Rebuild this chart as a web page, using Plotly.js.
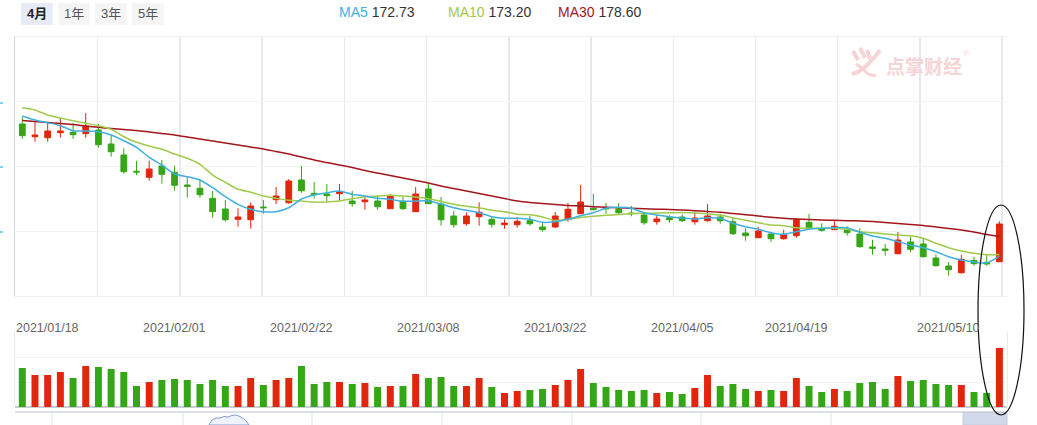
<!DOCTYPE html>
<html>
<head>
<meta charset="utf-8">
<script src="https://cdn.plot.ly/plotly-3.0.1.min.js"></script>
<style>
  html, body { margin: 0; padding: 0; background: #ffffff; }
  #chart { width: 1037px; height: 425px; }
</style>
</head>
<body>
<div id="chart"></div>
<script>
// ---------------- data ----------------
const dates = [
  '2021-01-14','2021-01-15','2021-01-18','2021-01-19','2021-01-20','2021-01-21','2021-01-22','2021-01-25','2021-01-26','2021-01-27',
  '2021-01-28','2021-01-29','2021-02-01','2021-02-02','2021-02-03','2021-02-04','2021-02-05','2021-02-08','2021-02-09','2021-02-10',
  '2021-02-18','2021-02-19','2021-02-22','2021-02-23','2021-02-24','2021-02-25','2021-02-26','2021-03-01','2021-03-02','2021-03-03',
  '2021-03-04','2021-03-05','2021-03-08','2021-03-09','2021-03-10','2021-03-11','2021-03-12','2021-03-15','2021-03-16','2021-03-17',
  '2021-03-18','2021-03-19','2021-03-22','2021-03-23','2021-03-24','2021-03-25','2021-03-26','2021-03-29','2021-03-30','2021-03-31',
  '2021-04-01','2021-04-02','2021-04-06','2021-04-07','2021-04-08','2021-04-09','2021-04-12','2021-04-13','2021-04-14','2021-04-15',
  '2021-04-16','2021-04-19','2021-04-20','2021-04-21','2021-04-22','2021-04-23','2021-04-26','2021-04-27','2021-04-28','2021-04-29',
  '2021-04-30','2021-05-06','2021-05-07','2021-05-10','2021-05-11','2021-05-12','2021-05-13','2021-05-14'
];

const open = [
  212.28,208.48,208.18,209.68,209.80,209.38,210.49,206.30,203.00,198.12,
  196.33,199.71,197.82,194.02,193.03,190.04,186.84,183.75,183.63,187.43,
  189.62,188.72,195.52,191.54,191.33,191.42,189.23,189.02,189.23,186.93,
  189.14,186.03,192.82,188.33,184.74,182.43,184.53,183.75,182.13,182.13,
  183.33,181.45,181.45,183.84,185.43,187.05,187.13,186.84,185.64,185.04,
  183.03,184.23,184.44,183.03,183.33,184.44,183.03,179.65,178.24,179.35,
  177.94,178.84,182.85,180.94,180.64,180.55,179.35,175.46,174.86,173.45,
  176.96,176.36,172.16,169.77,167.76,171.48,170.88,171.06
];
const close = [
  208.78,208.99,210.19,210.19,209.08,211.60,206.09,203.99,198.00,197.91,
  198.81,197.23,193.93,193.63,191.12,186.03,183.63,184.44,187.73,187.22,
  190.73,195.22,192.31,191.12,190.82,191.93,188.42,189.53,187.52,190.64,
  186.93,191.33,188.42,183.63,182.13,184.74,185.85,182.25,182.64,183.15,
  182.43,180.64,184.74,186.75,188.93,186.63,186.93,185.73,185.43,182.73,
  183.84,183.63,183.33,184.14,184.74,183.33,179.44,178.84,180.25,177.94,
  179.26,183.63,181.24,180.46,181.66,179.74,175.55,175.07,174.47,177.55,
  174.77,172.55,169.86,168.66,171.78,170.46,170.37,182.34
];
const high = [
  214.47,213.18,212.97,213.99,212.58,215.58,212.28,208.99,205.01,201.21,
  201.30,201.51,199.80,196.63,195.82,192.22,189.53,187.05,188.84,189.53,
  193.42,195.82,199.71,194.92,194.32,194.32,192.22,190.64,190.94,191.24,
  190.52,193.42,194.53,190.43,186.24,185.85,188.84,184.65,183.75,184.35,
  184.74,182.85,185.94,188.63,194.02,191.33,188.63,188.63,187.73,185.73,
  184.95,184.95,185.25,185.94,188.33,185.43,184.23,181.06,181.45,179.95,
  180.64,184.14,185.34,182.55,183.45,181.66,181.06,177.64,176.36,179.95,
  178.45,178.15,173.27,170.97,173.06,172.55,173.27,183.15
];
const low = [
  207.88,206.99,206.99,208.18,207.88,208.18,205.19,202.49,197.40,197.01,
  195.31,194.41,192.31,190.22,190.22,184.23,183.03,181.54,180.94,185.43,
  188.33,188.42,191.72,189.92,189.14,189.53,187.52,186.63,186.63,186.93,
  186.63,186.03,188.33,181.84,181.24,181.84,181.84,181.24,180.94,181.24,
  181.84,180.04,181.15,183.03,185.43,186.45,185.43,185.04,184.65,182.13,
  182.13,182.73,182.94,182.13,183.03,182.43,179.05,177.34,178.24,176.96,
  177.64,178.24,180.76,180.04,180.64,178.84,175.25,173.15,172.85,173.27,
  173.87,172.25,169.56,166.87,167.46,169.86,169.86,171.06
];
const ma5 = [
  214.68,213.48,212.67,211.78,210.28,210.19,209.98,208.99,207.28,205.31,
  202.31,200.01,197.31,196.51,195.52,193.21,190.52,188.24,186.75,186.03,
  186.03,187.22,189.83,191.03,191.72,192.22,191.24,190.73,190.04,189.74,
  189.14,189.23,189.23,188.33,187.22,186.45,185.73,184.53,184.05,184.05,
  183.75,182.85,183.03,183.75,184.83,185.73,187.05,187.34,187.05,185.73,
  185.04,184.53,184.14,183.84,184.23,184.05,182.55,181.54,180.76,179.74,
  179.26,180.04,180.76,181.06,181.24,181.24,179.86,178.75,178.06,177.05,
  176.06,175.25,174.05,172.55,171.57,170.97,170.67,172.73
];
const ma10 = [
  217.16,216.48,214.98,214.08,213.27,212.52,211.78,210.70,208.48,206.81,
  205.70,204.71,203.30,202.01,200.22,197.01,194.83,192.73,191.84,190.73,
  190.04,189.44,189.23,188.93,188.93,189.23,189.92,190.52,190.73,190.94,
  190.73,190.43,189.92,189.14,188.24,187.64,187.22,186.45,186.03,185.25,
  185.10,184.44,183.39,183.75,184.29,184.65,184.95,185.19,185.49,185.55,
  185.64,185.73,185.79,185.67,185.40,185.04,184.23,183.45,182.73,182.04,
  181.84,181.24,181.06,181.06,181.06,180.76,180.04,179.74,179.35,179.05,
  178.84,178.06,176.57,175.25,174.26,173.57,173.15,173.20
];
const ma30 = [
  213.33,213.03,212.73,212.43,212.13,211.69,211.30,210.94,210.64,210.34,
  209.89,209.44,208.99,208.39,207.79,207.19,206.60,206.00,205.40,204.80,
  204.05,203.30,202.40,201.51,200.76,200.01,199.26,198.36,197.61,196.87,
  196.12,195.37,194.62,193.72,192.97,192.22,191.48,190.73,189.98,189.23,
  188.78,188.48,188.18,187.88,187.73,187.52,187.37,187.22,187.07,186.90,
  186.78,186.69,186.54,186.33,186.09,185.85,185.49,185.13,184.74,184.35,
  184.05,183.84,183.69,183.54,183.45,183.33,183.24,183.06,182.79,182.49,
  182.19,181.90,181.45,181.00,180.55,179.95,179.20,178.60
];
// volume (万手)
const volume = [
  3.9,3.2,3.2,3.5,2.9,4.1,4.0,3.8,3.5,2.1,
  2.5,2.7,2.8,2.7,2.3,2.7,2.1,2.1,2.9,2.2,
  2.7,2.9,4.1,2.3,2.5,2.5,2.3,2.4,2.0,2.1,
  2.1,3.3,2.9,3.0,2.1,2.1,2.9,2.0,1.4,1.6,
  1.7,1.8,2.2,2.7,3.8,2.4,2.0,1.7,1.6,1.7,
  1.4,1.5,1.3,1.9,3.2,2.1,2.3,1.8,1.6,1.7,
  1.6,2.9,2.1,1.5,1.8,1.6,2.4,2.5,1.8,3.1,
  2.6,2.7,2.3,2.2,2.2,1.5,1.4,5.9
];

const tickDates = ['2021-01-18','2021-02-01','2021-02-22','2021-03-08','2021-03-22','2021-04-06','2021-04-19','2021-05-10'];
const tickText  = ['2021/01/18','2021/02/01','2021/02/22','2021/03/08','2021/03/22','2021/04/05','2021/04/19','2021/05/10'];

const periodButtons = ['4月','1年','3年','5年'];
const maNames  = ['MA5','MA10','MA30'];
const maLast   = ['172.73','173.20','178.60'];

// ---------------- styling ----------------
const RED = '#e0260c', GREEN = '#35a615';
const MA_COLORS = ['#3fb0df', '#9fca4a', '#a3161c'];
const FONT = '"Liberation Sans", Arial, "Noto Sans CJK SC", sans-serif';

const W = 1037, H = 425;
const M = {l: 15, r: 30, t: 37, b: 18};
const PW = W - M.l - M.r, PH = H - M.t - M.b;
const X = px => (px - M.l) / PW;          // pixel -> paper (decorations only)
const Y = py => (H - M.b - py) / PH;

const idx = dates.map((d, i) => i);
const volColors = close.map((c, i) => c >= open[i] ? RED : GREEN);

const traces = [
  {
    type: 'candlestick', x: idx, open: open, high: high, low: low, close: close,
    xaxis: 'x', yaxis: 'y',
    increasing: {line: {color: RED, width: 1}, fillcolor: RED},
    decreasing: {line: {color: GREEN, width: 1}, fillcolor: GREEN},
    whiskerwidth: 0, hoverinfo: 'skip', showlegend: false
  },
  {type: 'scatter', mode: 'lines', x: idx, y: ma30, xaxis: 'x', yaxis: 'y',
   line: {color: MA_COLORS[2], width: 1.5, shape: 'spline', smoothing: 0.6}, hoverinfo: 'skip', showlegend: false},
  {type: 'scatter', mode: 'lines', x: idx, y: ma10, xaxis: 'x', yaxis: 'y',
   line: {color: MA_COLORS[1], width: 1.5, shape: 'spline', smoothing: 0.6}, hoverinfo: 'skip', showlegend: false},
  {type: 'scatter', mode: 'lines', x: idx, y: ma5, xaxis: 'x', yaxis: 'y',
   line: {color: MA_COLORS[0], width: 1.5, shape: 'spline', smoothing: 0.6}, hoverinfo: 'skip', showlegend: false},
  {type: 'bar', x: idx, y: volume, xaxis: 'x2', yaxis: 'y2', width: 0.55,
   marker: {color: volColors, line: {width: 0}}, hoverinfo: 'skip', showlegend: false}
];

const xr = [-0.575, 77.6];
const pr = [160.79, 238.33];

const annotations = [];
// period buttons
const btnX = [[21, 52.7], [58.3, 90], [95, 126.7], [132, 163.7]];
const shapes = [];
periodButtons.forEach((t, i) => {
  shapes.push({type: 'rect', xref: 'paper', yref: 'paper', layer: 'below',
    x0: X(btnX[i][0]), x1: X(btnX[i][1]), y0: Y(25), y1: Y(3),
    fillcolor: i === 0 ? '#e6ebf5' : '#f5f5f5', line: {width: 0}});
  annotations.push({xref: 'paper', yref: 'paper', x: X((btnX[i][0] + btnX[i][1]) / 2), y: Y(14),
    text: i === 0 ? '<b>' + t + '</b>' : t, showarrow: false, xanchor: 'center', yanchor: 'middle',
    font: {family: FONT, size: 13, color: i === 0 ? '#222' : '#555'}});
});
// MA legend texts
const maX = [336.5, 446, 556];
maNames.forEach((n, i) => {
  annotations.push({xref: 'paper', yref: 'paper', x: X(maX[i]), y: Y(12.5), xanchor: 'left', yanchor: 'middle',
    text: '<span style="color:' + MA_COLORS[i] + '">' + n + '</span> ' + maLast[i],
    showarrow: false, font: {family: FONT, size: 14, color: '#333'}});
});
// date labels
tickDates.forEach((d, i) => {
  annotations.push({xref: 'x', yref: 'paper', x: dates.indexOf(d), y: Y(327.5), xanchor: 'center', yanchor: 'middle',
    text: tickText[i], showarrow: false, font: {family: FONT, size: 12.5, color: '#666'}});
});
// watermark
annotations.push({xref: 'paper', yref: 'paper', x: X(884), y: Y(65), xanchor: 'left', yanchor: 'middle',
  text: '<b>点掌财经</b>', showarrow: false, font: {family: '"Noto Sans CJK SC", sans-serif', size: 19, color: '#f6d3d5'}});
annotations.push({xref: 'paper', yref: 'paper', x: X(961), y: Y(54), xanchor: 'left', yanchor: 'middle',
  text: '®', showarrow: false, font: {family: FONT, size: 8, color: '#f6d3d5'}});

// watermark hand logo (decoration)
const P = (pts) => pts.map((p, k) => (k === 0 ? 'M' : (p[2] || 'L')) + X(p[0]).toFixed(5) + ',' + Y(p[1]).toFixed(5)).join(' ');
[[[853, 51], [858, 60]], [[860, 48], [865, 58]], [[867, 50], [870, 59]]].forEach(seg => {
  shapes.push({type: 'path', xref: 'paper', yref: 'paper', path: P(seg), line: {color: '#f6d3d5', width: 4}});
});
shapes.push({type: 'path', xref: 'paper', yref: 'paper',
  path: P([[880, 50], [874, 58], [866, 66], [858, 72], [852, 74]]), line: {color: '#f6d3d5', width: 4}});
shapes.push({type: 'path', xref: 'paper', yref: 'paper',
  path: P([[856, 64], [862, 68], [868, 74], [876, 76]]), line: {color: '#f6d3d5', width: 3}});

// left edge small marks
[103, 167, 232].forEach(py => {
  shapes.push({type: 'line', xref: 'paper', yref: 'paper', x0: X(0), x1: X(3), y0: Y(py), y1: Y(py),
    line: {color: '#7fd3ee', width: 2}});
});

// navigator strip below the volume panel
shapes.push({type: 'line', xref: 'paper', yref: 'paper', x0: X(15), x1: X(1007), y0: Y(412), y1: Y(412),
  line: {color: '#d0d4dc', width: 1.5}});
[52, 183, 312, 442, 572, 701, 831].forEach(px => {
  shapes.push({type: 'line', xref: 'paper', yref: 'paper', x0: X(px), x1: X(px), y0: Y(413), y1: Y(425),
    line: {color: '#e2e5ea', width: 1}});
});
shapes.push({type: 'rect', xref: 'paper', yref: 'paper', x0: X(963), x1: X(1007), y0: Y(425), y1: Y(412.5),
  fillcolor: '#d1d9ea', line: {color: '#c3cbdc', width: 1}});
shapes.push({type: 'path', xref: 'paper', yref: 'paper',
  path: P([[209, 425], [212, 420], [216, 418], [220, 418], [224, 416.5], [228, 417], [232, 415.5], [236, 415], [240, 416.5], [244, 419], [247, 422], [249, 425]]) + ' Z',
  fillcolor: '#eef3fb', line: {color: '#7f9fd0', width: 1}});

// ellipse highlight around the last session
shapes.push({type: 'circle', xref: 'paper', yref: 'paper', x0: X(978), x1: X(1024), y0: Y(415), y1: Y(205),
  line: {color: '#111', width: 1.2}});

const layout = {
  width: W, height: H,
  margin: M,
  paper_bgcolor: '#ffffff', plot_bgcolor: '#ffffff',
  showlegend: false,
  boxgap: 0.35,
  font: {family: FONT},
  xaxis: {
    type: 'linear', range: xr, domain: [0, 1], anchor: 'y',
    showticklabels: false, ticks: '', zeroline: false,
    showgrid: true, tickmode: 'linear', tick0: 5.94, dtick: 6.48, gridcolor: '#e4e9f1', gridwidth: 1.5,
    showline: true, mirror: true, linecolor: '#edf0f5', linewidth: 1,
    rangeslider: {visible: false}, fixedrange: true
  },
  yaxis: {
    domain: [Y(296), 1], range: pr, anchor: 'x',
    showticklabels: false, ticks: '', zeroline: false,
    tickmode: 'linear', tick0: pr[0], dtick: (pr[1] - pr[0]) / 4,
    showgrid: true, gridcolor: '#f1f3f7', gridwidth: 1,
    showline: true, linecolor: '#ccd7e8', linewidth: 1.5, fixedrange: true
  },
  xaxis2: {
    type: 'linear', range: xr, domain: [0, 1], anchor: 'y2', matches: 'x',
    showticklabels: false, ticks: '', zeroline: false, showgrid: false,
    showline: false, fixedrange: true
  },
  yaxis2: {
    domain: [0, Y(332)], range: [0, 7.5], anchor: 'x2',
    showticklabels: false, ticks: '', zeroline: true, zerolinecolor: '#c9ced8', zerolinewidth: 1.5,
    tickmode: 'linear', tick0: 0, dtick: 2.5,
    showgrid: true, gridcolor: '#f1f3f7', gridwidth: 1,
    showline: true, mirror: true, linecolor: '#e6eaf0', linewidth: 1, fixedrange: true
  },
  annotations: annotations,
  shapes: shapes
};

Plotly.newPlot('chart', traces, layout, {staticPlot: true, displayModeBar: false});
</script>
</body>
</html>
